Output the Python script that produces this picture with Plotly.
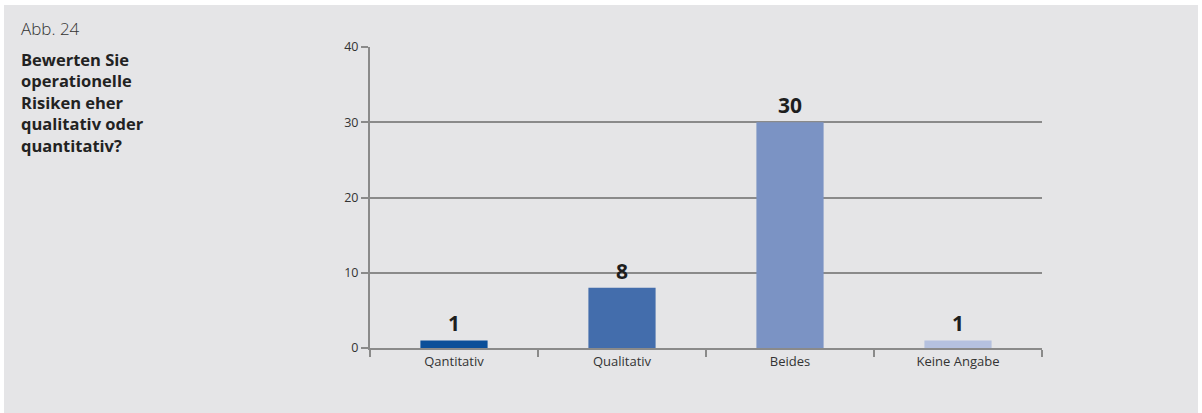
import plotly.graph_objects as go

categories = ["Qantitativ", "Qualitativ", "Beides", "Keine Angabe"]
values = [1, 8, 30, 1]
bar_colors = ["#0b4f99", "#436dac", "#7b93c4", "#b5c1df"]
y_ticks = [0, 10, 20, 30, 40]
title_lines = ["Bewerten Sie", "operationelle", "Risiken eher", "qualitativ oder", "quantitativ?"]

W, H = 1202, 413
L, R, T, B = 370, 160, 47, 65
pw, ph = W - L - R, H - T - B

def px_x(p):
    return (p - L) / pw

def px_y(p):
    return (H - B - p) / ph

fig = go.Figure(go.Bar(
    x=categories, y=values,
    marker=dict(color=bar_colors, line=dict(width=0)),
    width=0.4,
    text=[str(v) for v in values],
    textposition="outside",
    textfont=dict(family="Open Sans", size=21, color="#1e1e1e", weight="bold"),
    cliponaxis=False,
))

grid = "#8a8a8a"
annotations = [
    dict(text="Abb. 24", xref="paper", yref="paper", x=px_x(19), y=px_y(42),
         xanchor="left", yanchor="bottom", showarrow=False, align="left",
         font=dict(family="Open Sans", size=17, color="#333333", weight=300)),
    dict(text="<b>" + "<br>".join(title_lines) + "</b>", xref="paper", yref="paper",
         x=px_x(19), y=px_y(46), xanchor="left", yanchor="top", showarrow=False, align="left",
         font=dict(family="Open Sans", size=16.5, color="#222222")),
]

fig.update_layout(
    width=W, height=H,
    margin=dict(l=L, r=R, t=T, b=B),
    paper_bgcolor="#e5e5e7",
    plot_bgcolor="rgba(0,0,0,0)",
    showlegend=False,
    font=dict(family="Open Sans", color="#333333", size=12),
    xaxis=dict(
        showline=True, linecolor=grid, linewidth=2,
        ticks="outside", tickson="boundaries", ticklen=7, tickwidth=2, tickcolor=grid,
        showgrid=False, tickfont=dict(size=13, color="#333333"),
    ),
    yaxis=dict(
        range=[0, 40], tickvals=y_ticks,
        showline=True, linecolor=grid, linewidth=2,
        ticks="outside", ticklen=7, tickwidth=2, tickcolor=grid,
        showgrid=True, gridcolor=grid, gridwidth=2,
        zeroline=False, tickfont=dict(size=12.5, color="#333333"),
    ),
    shapes=[
        dict(type="rect", xref="paper", yref="paper",
             x0=px_x(-5), x1=px_x(1210), y0=px_y(5), y1=px_y(-5),
             fillcolor="white", line=dict(width=0), layer="below"),
        dict(type="rect", xref="paper", yref="paper",
             x0=px_x(-5), x1=px_x(4), y0=px_y(420), y1=px_y(-5),
             fillcolor="white", line=dict(width=0), layer="below"),
        dict(type="rect", xref="paper", yref="paper",
             x0=px_x(1198), x1=px_x(1210), y0=px_y(420), y1=px_y(-5),
             fillcolor="white", line=dict(width=0), layer="below"),
    ],
    annotations=annotations,
)

fig.write_html("out.html", config={"displayModeBar": False},
               post_script="document.body.style.margin='0';document.body.style.overflow='hidden';")
